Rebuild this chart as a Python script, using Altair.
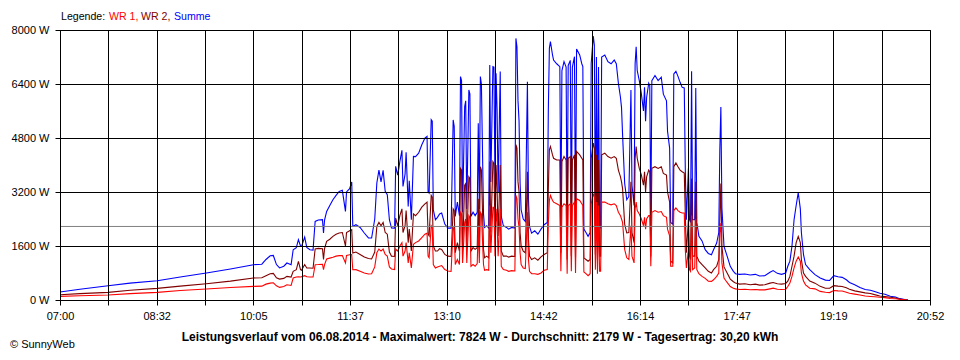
import json
import altair as alt
import pandas as pd

# minutes after 07:00
minutes = [0, 19, 46, 67, 93, 115, 140, 163, 185, 193, 197, 201, 204, 207, 210, 214, 217, 221,
           223, 226, 228, 230, 231, 234, 236, 239, 242, 244, 247, 251, 252, 253, 255, 258, 261, 264,
           267, 270, 273, 274, 277, 279, 280, 283, 287, 291, 295, 298,
           301, 303, 305, 307, 309, 311, 313, 315, 317, 320, 321, 323, 325, 327, 328, 330, 331, 333,
           334, 336, 338, 340, 343, 346, 349, 351, 352, 353, 355, 356, 357, 359,
           361, 363, 365, 368, 371, 374, 376, 377, 378, 380, 382, 383, 384, 385, 387, 388, 389, 391,
           392, 393, 395, 397, 399, 400, 401, 402, 403, 405, 406, 408, 410, 411, 412, 414, 415, 416,
           417, 418, 419, 421, 422, 424, 427, 429, 432, 435, 436, 437, 438, 439,
           440, 441, 443, 445, 447, 448, 449, 451, 454, 457, 460, 463, 466, 467, 468, 469, 471, 472,
           475, 478, 479, 480, 482, 484, 485, 486, 488, 489, 490, 492, 493, 494, 497, 499, 500, 501,
           503, 505, 507, 508, 510, 511, 512, 513, 514, 515, 516, 517, 518, 521, 524, 527, 530, 532,
           534, 536, 537, 538, 540, 542, 544, 546, 547, 549, 550, 551, 552, 554, 556, 558, 559, 560,
           561, 563, 564, 565, 566, 569, 572, 575, 577, 580, 581, 583, 584, 586, 587, 589, 591, 593,
           595, 597, 598, 599, 601, 602, 603, 604, 605, 607, 608, 609, 611,
           614, 617, 620, 623, 625, 628, 630, 631, 632, 633, 635, 638, 641, 644, 646, 650, 655, 660,
           665, 669, 674, 679, 682, 686, 690, 694, 696, 698, 700, 702, 704, 706, 708, 709, 711, 713,
           717, 722, 727, 732, 736, 740, 744, 748, 752, 755, 760, 765, 770, 775, 779, 784, 789, 794,
           799, 803, 808, 811]

summe = [237, 320, 424, 500, 572, 680, 800, 920, 1046, 1060, 1200, 1310, 1320, 1050, 950, 1000, 1096, 1046,
         1490, 1550, 1787, 1600, 1590, 1866, 1560, 1490, 1480, 2329, 2370, 2380, 1985, 2370, 2625, 2800, 2972, 3100,
         3218, 3250, 2625, 3200, 3300, 3496, 2181, 2230, 2150, 1985, 1840, 1837,
         2400, 3467, 3850, 3500, 3840, 3218, 3120, 2379, 2133, 2130, 3959, 3700, 4100, 4434, 3367, 3730, 4374, 2774,
         3532, 2379, 4255, 4250, 4350, 4600, 4800, 4850, 3200, 3166, 5342, 5300, 2676, 2379,
         2450, 2550, 2575, 2250, 2130, 2130, 5336, 5140, 2476, 2900, 2500, 6619, 6500, 2600, 5730, 5900, 2700, 6224,
         6100, 2476, 2600, 2500, 2600, 5238, 2700, 6619, 6400, 2560, 2150, 2200, 2130, 6964, 3500, 6915, 6900, 3300,
         6717, 5632, 3200, 6767, 2476, 2200, 2150, 2100, 2150, 2130, 7750, 7500, 5900, 5300,
         3462, 2673, 2400, 2328, 6470, 3000, 2180, 1980, 2050, 1950, 2100, 2230, 2300, 5632, 7460, 7655, 7260, 7110,
         7000, 6915, 2300, 6800, 7063, 6900, 2000, 6950, 7100, 2200, 6900, 7210, 2100, 7437, 7260, 7000, 6915, 2100,
         2000, 1885, 2000, 7010, 7824, 7556, 2300, 7200, 2000, 6900, 2200, 2150, 7200, 7260, 7063, 7000, 7110, 7000,
         6422, 6000, 5700, 4900, 3460, 2972, 3068, 6224, 3400, 2800, 7000, 7506, 6800, 6500, 6100, 5600, 6300, 5300,
         6000, 6422, 6350, 2280, 6500, 6650, 6500, 6600, 6100, 5900, 5000, 4500, 2300, 2250, 6700, 6774, 6626, 6450,
         6300, 6282, 3820, 2380, 3900, 2380, 2300, 6774, 2379, 2379, 6282, 2300, 1885,
         1750, 1490, 1380, 1342, 1490, 1687, 2000, 4453, 5718, 2725, 1590, 1300, 996, 850, 780, 760, 770, 740,
         760, 710, 720, 820, 870, 790, 760, 800, 1000, 1150, 1600, 2379, 2800, 3180, 2700, 2000, 1350, 1050,
         900, 750, 652, 590, 580, 720, 690, 670, 600, 520, 450, 370, 310, 290, 250, 200, 170, 110,
         90, 40, 10, 0]

wr2 = [157, 190, 226, 290, 344, 410, 483, 560, 652, 660, 720, 780, 790, 660, 620, 640, 700, 680,
       848, 900, 1145, 900, 880, 1050, 950, 947, 940, 1510, 1530, 1520, 1205, 1520, 1737, 1800, 1885, 1950,
       1985, 2000, 1600, 2000, 2050, 2083, 1392, 1420, 1350, 1275, 1230, 1215,
       1420, 2181, 2300, 2200, 2300, 2000, 1950, 1420, 1300, 1290, 2428, 2200, 2500, 2700, 2000, 2200, 2650, 1700,
       2100, 1450, 2550, 2500, 2600, 2750, 2850, 2900, 1950, 1900, 3100, 3050, 1600, 1450,
       1450, 1520, 1500, 1350, 1300, 1290, 2700, 2650, 1400, 1700, 1450, 3900, 3850, 1500, 3400, 3450, 1600, 3650,
       3600, 1450, 1550, 1500, 1550, 3000, 1600, 3950, 3850, 1500, 1250, 1300, 1250, 4100, 2000, 4100, 4050, 1950,
       4000, 3300, 1900, 4000, 1450, 1300, 1300, 1270, 1300, 1290, 4600, 4500, 3500, 3200,
       2000, 1600, 1450, 1400, 3800, 1800, 1300, 1200, 1250, 1180, 1280, 1350, 1400, 3300, 4450, 4550, 4300, 4200,
       4150, 4150, 1400, 4100, 4250, 4150, 1200, 4200, 4250, 1300, 4150, 4300, 1250, 4400, 4300, 4200, 4150, 1250,
       1200, 1150, 1200, 4200, 4650, 4500, 1350, 4300, 1200, 4150, 1300, 1300, 4300, 4350, 4250, 4200, 4250, 4200,
       3850, 3650, 3500, 3300, 2250, 1990, 2000, 3500, 2000, 1700, 4200, 4550, 4200, 3900, 3700, 3400, 3800, 3200,
       3650, 3850, 3800, 1290, 3900, 3950, 3900, 3950, 3750, 3700, 3200, 2900, 1150, 1100, 3950, 4060, 3950, 3850,
       3800, 3760, 2500, 1400, 2400, 1300, 1200, 3600, 1300, 1300, 3500, 1300, 1150,
       1050, 950, 850, 800, 900, 1000, 1200, 2380, 3450, 1600, 980, 800, 620, 540, 504, 470, 480, 450,
       470, 440, 450, 500, 520, 480, 470, 490, 560, 700, 1000, 1300, 1700, 1885, 1700, 1200, 800, 700,
       560, 500, 404, 350, 350, 425, 410, 400, 360, 320, 270, 240, 210, 195, 160, 120, 100, 80,
       60, 25, 5, 0]

wr1 = [107, 125, 148, 190, 226, 280, 326, 370, 404, 410, 470, 500, 510, 420, 374, 400, 453, 430,
       652, 680, 690, 680, 690, 720, 690, 680, 680, 1046, 1050, 1060, 900, 1050, 1215, 1240, 1265, 1300,
       1315, 1320, 1100, 1320, 1340, 1343, 898, 900, 850, 800, 770, 780,
       980, 1400, 1510, 1450, 1510, 1350, 1300, 980, 920, 900, 1510, 1450, 1600, 1700, 1300, 1450, 1700, 1100,
       1400, 950, 1650, 1700, 1750, 1850, 1950, 1980, 1300, 1250, 2200, 2150, 1050, 950,
       980, 1000, 1020, 900, 860, 850, 2150, 2100, 1050, 1200, 1050, 2600, 2550, 1100, 2300, 2400, 1100, 2500,
       2450, 1000, 1050, 1000, 1080, 2200, 1100, 2600, 2550, 1050, 880, 900, 880, 2800, 1400, 2750, 2750, 1300,
       2700, 2300, 1300, 2700, 1000, 900, 880, 850, 870, 860, 3100, 3000, 2400, 2150,
       1400, 1050, 950, 930, 2600, 1200, 850, 780, 780, 760, 800, 880, 900, 2300, 2950, 3100, 2950, 2900,
       2850, 2800, 850, 2750, 2850, 2800, 780, 2800, 2850, 850, 2800, 2900, 800, 3000, 2950, 2850, 2800, 830,
       780, 720, 780, 2850, 3150, 3050, 900, 2900, 780, 2800, 850, 850, 2900, 2900, 2850, 2820, 2850, 2800,
       2600, 2500, 2400, 2300, 1500, 1250, 1200, 2200, 1300, 1100, 2700, 2900, 2650, 2550, 2400, 2200, 2450, 2100,
       2400, 2500, 2500, 1000, 2600, 2650, 2600, 2620, 2500, 2450, 2100, 1900, 1000, 1000, 2650, 2730, 2650, 2600,
       2580, 2580, 1500, 950, 1500, 900, 850, 2500, 900, 950, 2400, 900, 780,
       700, 640, 560, 552, 600, 700, 800, 2000, 2280, 1100, 650, 520, 400, 350, 330, 310, 320, 305,
       310, 300, 300, 330, 350, 320, 310, 320, 400, 500, 700, 950, 1150, 1274, 1150, 800, 560, 450,
       350, 330, 255, 230, 220, 280, 270, 265, 230, 200, 175, 150, 120, 105, 95, 80, 70, 45,
       35, 20, 5, 0]

series_names = ["Summe", "WR 2", "WR 1"]
series_colors = ["#0000ff", "#800000", "#ff0000"]
tick_labels = ["07:00", "08:32", "10:05", "11:37", "13:10", "14:42", "16:14", "17:47", "19:19", "20:52"]
y_ticks = [0, 1600, 3200, 4800, 6400, 8000]
average_w = [2179]
legend_labels = ["Legende:", "WR 1,", "WR 2,", "Summe"]
legend_colors = ["#000000", "#ff0000", "#800000", "#0000ff"]
caption = ["Leistungsverlauf vom 06.08.2014 - Maximalwert: 7824 W - Durchschnitt: 2179 W - Tagesertrag: 30,20 kWh"]
copyright_text = ["\u00a9 SunnyWeb"]

SPAN = 832  # minutes from 07:00 to 20:52
N_INT = 18
x_ticks = [i * SPAN / N_INT for i in range(N_INT + 1)]

df = pd.DataFrame({"t": minutes, "Summe": summe, "WR 2": wr2, "WR 1": wr1})
long = df.melt(id_vars="t", var_name="series", value_name="W")

FONT = "Liberation Sans"
label_js = json.dumps(tick_labels)
x_label_expr = (f"(round(datum.value*{N_INT}/{SPAN}) % 2 == 0) ? "
                f"{label_js}[round(datum.value*{N_INT}/{SPAN})/2] : ''")

x_enc = alt.X("t:Q", scale=alt.Scale(domain=[0, SPAN], nice=False, zero=False),
              axis=alt.Axis(values=x_ticks, labelExpr=x_label_expr, grid=True, gridColor="#000000",
                            gridOpacity=1, gridWidth=1, tickColor="#000000", tickSize=5, tickWidth=1,
                            domainColor="#000000", labelColor="#000000", labelFont=FONT, labelFontSize=11,
                            labelPadding=5, labelAngle=0, labelOverlap=False, labelFlush=False,
                            labelBound=False, title=None, zindex=1))
y_scale = alt.Scale(domain=[0, 8000], nice=False, zero=True)
y_axis = alt.Axis(values=y_ticks, labelExpr="datum.value + ' W'", grid=True, gridColor="#000000",
                  gridOpacity=1, gridWidth=1, tickColor="#000000", tickSize=5, tickWidth=1,
                  domainColor="#000000", labelColor="#000000", labelFont=FONT, labelFontSize=11,
                  labelPadding=6, labelOverlap=False, labelBound=False, title=None, zindex=1)

layers = []
for name, color in zip(series_names, series_colors):
    layers.append(
        alt.Chart(long).transform_filter(alt.datum.series == name)
        .mark_line(color=color, strokeWidth=1.1, interpolate="linear")
        .encode(x=x_enc, y=alt.Y("W:Q", scale=y_scale, axis=y_axis))
    )

avg_rule = alt.Chart(pd.DataFrame({"W": average_w})).mark_rule(color="#808080", strokeWidth=1).encode(
    y=alt.Y("W:Q", scale=y_scale, axis=y_axis)
)
layers.append(avg_rule)

legend_x = [1, 49, 81, 114]
for lbl, col, px in zip(legend_labels, legend_colors, legend_x):
    layers.append(
        alt.Chart(pd.DataFrame({"label": [lbl]})).mark_text(
            align="left", baseline="alphabetic", font=FONT, fontSize=10.6, color=col
        ).encode(text="label:N", x=alt.value(px), y=alt.value(-10))
    )

layers.append(
    alt.Chart(pd.DataFrame({"label": caption})).mark_text(
        align="center", baseline="alphabetic", font=FONT, fontSize=12, fontWeight="bold", color="#000000"
    ).encode(text="label:N", x=alt.value(420), y=alt.value(311))
)
layers.append(
    alt.Chart(pd.DataFrame({"label": copyright_text})).mark_text(
        align="left", baseline="alphabetic", font=FONT, fontSize=11, color="#000000"
    ).encode(text="label:N", x=alt.value(-50), y=alt.value(318))
)

chart = alt.layer(*layers).properties(
    width=870, height=270,
    autosize=alt.AutoSizeParams(type="none"),
    padding={"left": 52, "top": 22, "right": 20, "bottom": 56},
    background="#ffffff",
).configure_view(stroke="#000000", strokeWidth=1)

chart.save("out.html", embed_options={"renderer": "svg", "actions": False})
